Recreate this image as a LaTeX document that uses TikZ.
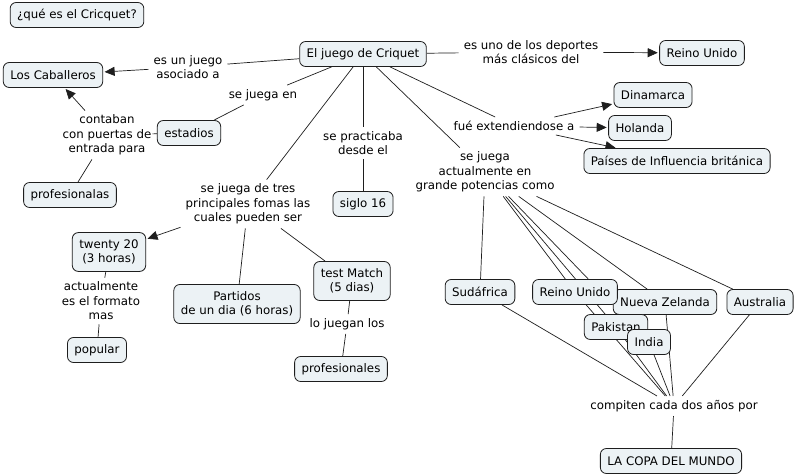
\documentclass[tikz,border=0pt]{standalone}
\usepackage{fontspec}
\setmainfont{DejaVu Sans}
\usetikzlibrary{arrows.meta,backgrounds}
\definecolor{cfill}{RGB}{236,242,245}
\definecolor{cline}{RGB}{30,30,30}
\begin{document}
\begin{tikzpicture}[x=1pt,y=-1pt,
  every node/.style={font=\fontsize{11.8}{14.5}\selectfont, text=black},
  concept/.style={draw=cline, fill=cfill, line width=0.8pt, rounded corners=6pt,
    inner xsep=7pt, inner ysep=3pt, minimum height=25pt, align=center},
  concepttwo/.style={concept, inner ysep=7pt},
  lp/.style={align=center, inner xsep=5pt, inner ysep=4pt},
  link/.style={draw=cline, line width=0.7pt},
  arr/.style={link, shorten >=1.5pt, -{Triangle[length=10pt,width=9pt]}}]
\useasboundingbox (0,0) rectangle (798,476);

% concepts
\node[concept] (q) at (77,15) {¿qué es el Cricquet?};
\node[concept] (ej) at (363,54) {El juego de Criquet};
\node[concept] (lc) at (53,75) {Los Caballeros};
\node[concept] (ru1) at (702,53) {Reino Unido};
\node[concept] (din) at (653,95) {Dinamarca};
\node[concept] (hol) at (640,128) {Holanda};
\node[concept] (pai) at (677,161) {Países de Influencia británica};
\node[concept] (est) at (189,133) {estadios};
\node[concept] (prf) at (70,195) {profesionalas};
\node[concept] (s16) at (363,204) {siglo 16};
\node[concepttwo] (t20) at (109,252) {twenty 20\\(3 horas)};
\node[concepttwo] (par) at (237,304) {Partidos\\de un dia (6 horas)};
\node[concepttwo] (tm) at (352,281) {test Match\\(5 dias)};
\node[concept] (pop) at (97,350) {popular};
\node[concept] (prs) at (341,369) {profesionales};
\node[concept] (sud) at (480,292) {Sudáfrica};
\node[concept] (nz) at (665,302) {Nueva Zelanda};
\node[concept] (ru2) at (575,292) {Reino Unido};
\node[concept] (aus) at (760,302) {Australia};
\node[concept] (pak) at (616,327) {Pakistan};
\node[concept] (ind) at (649,342) {India};
\node[concept] (copa) at (671,461) {LA COPA DEL MUNDO};

% linking phrases
\node[lp] (l1) at (188,67) {es un juego\\asociado a};
\node[lp] (l2) at (531,52) {es uno de los deportes\\más clásicos del};
\node[lp] (l3) at (263,95) {se juega en};
\node[lp, inner xsep=1pt] (l4) at (107,135) {contaban\\con puertas de\\entrada para};
\node[lp] (l5) at (363,143) {se practicaba\\desde el};
\node[lp] (l6) at (514,126) {fué extendiendose a};
\node[lp] (l7) at (485,172) {se juega\\actualmente en\\grande potencias como};
\node[lp] (l8) at (248,204) {se juega de tres\\principales fomas las\\cuales pueden ser};
\node[lp] (l9) at (101,301) {actualmente\\es el formato\\mas};
\node[lp] (l10) at (347,324) {lo juegan los};
\node[lp] (l11) at (674,406) {compiten cada dos años por};

\begin{scope}[on background layer]
\fill[white] (0,0) rectangle (798,476);
\draw[link] (ej) -- (l1);
\draw[arr] (l1) -- (lc);
\draw[link] (ej) -- (l2);
\draw[arr] (l2) -- (ru1);
\draw[link] (ej) -- (l3);
\draw[link] (l3) -- (est);
\draw[link] (est) -- (l4);
\draw[arr] (l4) -- (lc);
\draw[link] (prf) -- (l4);
\draw[link] (ej) -- (l5);
\draw[link] (l5) -- (s16);
\draw[link] (ej) -- (l8);
\draw[arr] (l8) -- (t20);
\draw[link] (l8) -- (par);
\draw[link] (l8) -- (tm);
\draw[link] (t20) -- (l9);
\draw[link] (l9) -- (pop);
\draw[link] (tm) -- (l10);
\draw[link] (l10) -- (prs);
\draw[link] (ej) -- (l6);
\draw[arr] (l6) -- (din);
\draw[arr] (l6) -- (hol);
\draw[arr] (l6) -- (pai);
\draw[link] (ej) -- (l7);
\foreach \c in {sud,ru2,pak,ind,nz,aus} {
  \draw[link] (l7) -- (\c);
  \draw[link] (\c) -- (l11);
}
\draw[link] (l11) -- (copa);
\end{scope}
\end{tikzpicture}
\end{document}
